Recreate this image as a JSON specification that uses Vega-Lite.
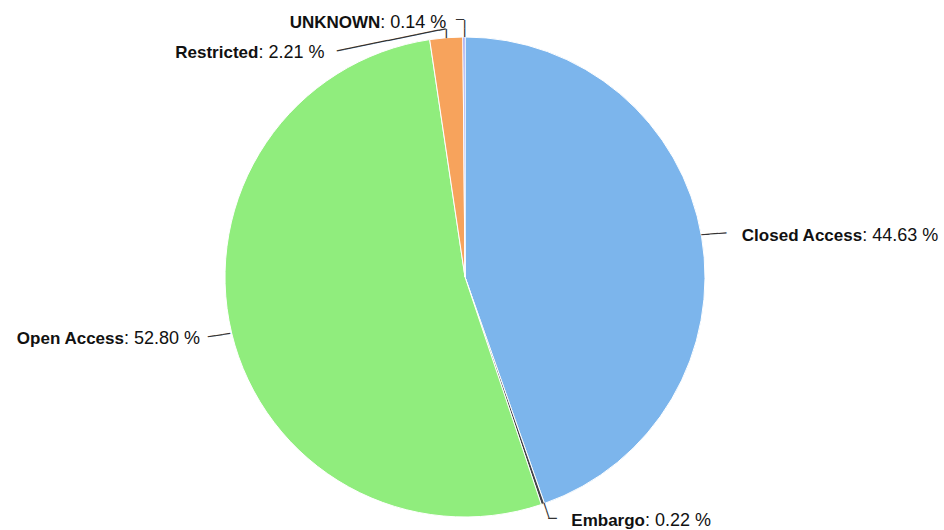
{
  "$schema": "https://vega.github.io/schema/vega-lite/v6.json",
  "width": 930,
  "height": 506,
  "autosize": "none",
  "padding": {"left": 0, "top": 24, "right": 14, "bottom": 0},
  "background": "white",
  "view": {"stroke": null},
  "data": {
    "values": [
      {"cat": "Closed Access", "pct": 44.63, "val": ": 44.63 %", "rank": 1},
      {"cat": "Embargo", "pct": 0.22, "val": ": 0.22 %", "rank": 2},
      {"cat": "Open Access", "pct": 52.80, "val": ": 52.80 %", "rank": 3},
      {"cat": "Restricted", "pct": 2.21, "val": ": 2.21 %", "rank": 4},
      {"cat": "UNKNOWN", "pct": 0.14, "val": ": 0.14 %", "rank": 5}
    ]
  },
  "encoding": {
    "theta": {"field": "pct", "type": "quantitative", "stack": true},
    "order": {"field": "rank", "type": "quantitative"}
  },
  "layer": [
    {
      "mark": {"type": "arc", "outerRadius": 240, "stroke": "#ffffff", "strokeWidth": 1},
      "encoding": {
        "color": {
          "field": "cat", "type": "nominal",
          "scale": {"domain": ["Closed Access", "Embargo", "Open Access", "Restricted", "UNKNOWN"],
                    "range": ["#7cb5ec", "#434348", "#90ed7d", "#f7a35c", "#8085e9"]},
          "legend": null
        }
      }
    },
    {
      "mark": {"type": "text", "radius": 270, "dx": 131, "dy": 4.4, "align": "right", "baseline": "middle", "font": "Liberation Sans", "fontSize": 17, "fontWeight": "bold", "color": "#111"},
      "encoding": {"detail": {"field": "cat"}, "text": {"condition": {"test": "datum.cat === 'Closed Access'", "field": "cat"}, "value": ""}}
    },
    {
      "mark": {"type": "text", "radius": 270, "dx": 131, "dy": 4.4, "align": "left", "baseline": "middle", "font": "Liberation Sans", "fontSize": 18, "fontWeight": "normal", "color": "#111"},
      "encoding": {"detail": {"field": "cat"}, "text": {"condition": {"test": "datum.cat === 'Closed Access'", "field": "val"}, "value": ""}}
    },
    {
      "mark": {"type": "text", "radius": 270, "dx": 92.4, "dy": -11.4, "align": "right", "baseline": "middle", "font": "Liberation Sans", "fontSize": 17, "fontWeight": "bold", "color": "#111"},
      "encoding": {"detail": {"field": "cat"}, "text": {"condition": {"test": "datum.cat === 'Embargo'", "field": "cat"}, "value": ""}}
    },
    {
      "mark": {"type": "text", "radius": 270, "dx": 92.4, "dy": -11.4, "align": "left", "baseline": "middle", "font": "Liberation Sans", "fontSize": 18, "fontWeight": "normal", "color": "#111"},
      "encoding": {"detail": {"field": "cat"}, "text": {"condition": {"test": "datum.cat === 'Embargo'", "field": "val"}, "value": ""}}
    },
    {
      "mark": {"type": "text", "radius": 270, "dx": -78.5, "dy": -1.5, "align": "right", "baseline": "middle", "font": "Liberation Sans", "fontSize": 17, "fontWeight": "bold", "color": "#111"},
      "encoding": {"detail": {"field": "cat"}, "text": {"condition": {"test": "datum.cat === 'Open Access'", "field": "cat"}, "value": ""}}
    },
    {
      "mark": {"type": "text", "radius": 270, "dx": -78.5, "dy": -1.5, "align": "left", "baseline": "middle", "font": "Liberation Sans", "fontSize": 18, "fontWeight": "normal", "color": "#111"},
      "encoding": {"detail": {"field": "cat"}, "text": {"condition": {"test": "datum.cat === 'Open Access'", "field": "val"}, "value": ""}}
    },
    {
      "mark": {"type": "text", "radius": 270, "dx": -185.5, "dy": 44.7, "align": "right", "baseline": "middle", "font": "Liberation Sans", "fontSize": 17, "fontWeight": "bold", "color": "#111"},
      "encoding": {"detail": {"field": "cat"}, "text": {"condition": {"test": "datum.cat === 'Restricted'", "field": "cat"}, "value": ""}}
    },
    {
      "mark": {"type": "text", "radius": 270, "dx": -185.5, "dy": 44.7, "align": "left", "baseline": "middle", "font": "Liberation Sans", "fontSize": 18, "fontWeight": "normal", "color": "#111"},
      "encoding": {"detail": {"field": "cat"}, "text": {"condition": {"test": "datum.cat === 'Restricted'", "field": "val"}, "value": ""}}
    },
    {
      "mark": {"type": "text", "radius": 270, "dx": -83.5, "dy": 15.7, "align": "right", "baseline": "middle", "font": "Liberation Sans", "fontSize": 17, "fontWeight": "bold", "color": "#111"},
      "encoding": {"detail": {"field": "cat"}, "text": {"condition": {"test": "datum.cat === 'UNKNOWN'", "field": "cat"}, "value": ""}}
    },
    {
      "mark": {"type": "text", "radius": 270, "dx": -83.5, "dy": 15.7, "align": "left", "baseline": "middle", "font": "Liberation Sans", "fontSize": 18, "fontWeight": "normal", "color": "#111"},
      "encoding": {"detail": {"field": "cat"}, "text": {"condition": {"test": "datum.cat === 'UNKNOWN'", "field": "val"}, "value": ""}}
    },
    {
      "mark": {"type": "text", "radius": 250, "dx": 2.5, "dy": -0.3, "angle": -5, "align": "center", "baseline": "middle", "font": "DejaVu Sans Mono", "fontSize": 13.8, "color": "#333"},
      "encoding": {"detail": {"field": "cat"}, "text": {"condition": {"test": "datum.cat === 'Closed Access'", "value": "───"}, "value": ""}}
    },
    {
      "mark": {"type": "text", "radius": 250, "dx": -2.9, "dy": -0.4, "angle": -8.5, "align": "center", "baseline": "middle", "font": "DejaVu Sans Mono", "fontSize": 12.5, "color": "#333"},
      "encoding": {"detail": {"field": "cat"}, "text": {"condition": {"test": "datum.cat === 'Open Access'", "value": "───"}, "value": ""}}
    },
    {
      "mark": {"type": "text", "radius": 250, "dx": -2.9, "dy": -0.8, "angle": 71.6, "align": "center", "baseline": "middle", "font": "DejaVu Sans Mono", "fontSize": 13, "color": "#333"},
      "encoding": {"detail": {"field": "cat"}, "text": {"condition": {"test": "datum.cat === 'Embargo'", "value": "──"}, "value": ""}}
    },
    {
      "mark": {"type": "text", "radius": 250, "dx": 6.3, "dy": 6, "angle": 0, "align": "center", "baseline": "middle", "font": "DejaVu Sans Mono", "fontSize": 14, "color": "#333"},
      "encoding": {"detail": {"field": "cat"}, "text": {"condition": {"test": "datum.cat === 'Embargo'", "value": "─"}, "value": ""}}
    },
    {
      "mark": {"type": "text", "radius": 250, "dx": -55.4, "dy": 1.3, "angle": -11.4, "align": "center", "baseline": "middle", "font": "DejaVu Sans Mono", "fontSize": 12.3, "color": "#333"},
      "encoding": {"detail": {"field": "cat"}, "text": {"condition": {"test": "datum.cat === 'Restricted'", "value": "───────────────"}, "value": ""}}
    },
    {
      "mark": {"type": "text", "radius": 250, "dx": 5.7, "dy": -0.8, "angle": 90, "align": "center", "baseline": "middle", "font": "DejaVu Sans Mono", "fontSize": 15, "color": "#333"},
      "encoding": {"detail": {"field": "cat"}, "text": {"condition": {"test": "datum.cat === 'Restricted'", "value": "─"}, "value": ""}}
    },
    {
      "mark": {"type": "text", "radius": 250, "dx": 1.5, "dy": -0.1, "angle": 90, "align": "center", "baseline": "middle", "font": "DejaVu Sans Mono", "fontSize": 14, "color": "#333"},
      "encoding": {"detail": {"field": "cat"}, "text": {"condition": {"test": "datum.cat === 'UNKNOWN'", "value": "──"}, "value": ""}}
    },
    {
      "mark": {"type": "text", "radius": 250, "dx": -3.9, "dy": -7, "angle": 0, "align": "center", "baseline": "middle", "font": "DejaVu Sans Mono", "fontSize": 13.3, "color": "#333"},
      "encoding": {"detail": {"field": "cat"}, "text": {"condition": {"test": "datum.cat === 'UNKNOWN'", "value": "─"}, "value": ""}}
    }
  ]
}
